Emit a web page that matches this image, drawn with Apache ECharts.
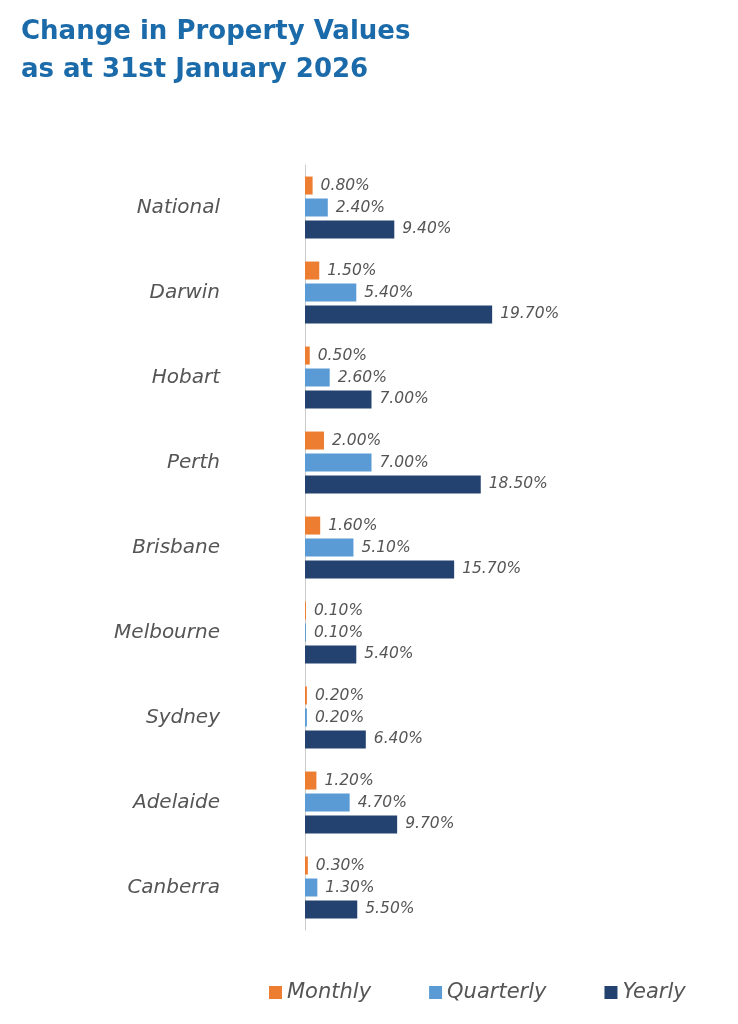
<!DOCTYPE html>
<html><head><meta charset="utf-8">
<script src="https://cdn.jsdelivr.net/npm/echarts@6/dist/echarts.min.js"></script>
<style>html,body{margin:0;padding:0;background:#fff}#c{width:738px;height:1024px}</style>
</head><body><div id="c"></div>
<script>
const categories = ["National","Darwin","Hobart","Perth","Brisbane","Melbourne","Sydney","Adelaide","Canberra"];
const monthly = [0.8,1.5,0.5,2.0,1.6,0.1,0.2,1.2,0.3];
const quarterly = [2.4,5.4,2.6,7.0,5.1,0.1,0.2,4.7,1.3];
const yearly = [9.4,19.7,7.0,18.5,15.7,5.4,6.4,9.7,5.5];
const seriesNames = ["Monthly","Quarterly","Yearly"];
const colors = ["#ED7D31","#5B9BD5","#24426F"];
const F = 'DejaVu Sans';
const lbl = {show:true,position:'right',distance:8,fontStyle:'italic',fontSize:15.5,color:'#555',fontFamily:F,formatter:p=>p.value.toFixed(2)+'%'};
const chart = echarts.init(document.getElementById('c'));
chart.setOption({
  animation:false,
  title:{text:'Change in Property Values\nas at 31st January 2026',left:16,top:8,textStyle:{color:'#1B6BAA',fontSize:26,fontWeight:'bold',fontFamily:F,lineHeight:38}},
  grid:{left:305,width:285,top:165,height:765},
  xAxis:{type:'value',min:0,max:30,show:false},
  yAxis:{type:'category',data:categories,inverse:true,axisLine:{show:true,lineStyle:{color:'#ccc'}},axisTick:{show:false},axisLabel:{margin:85,fontSize:20,fontStyle:'italic',color:'#555',fontFamily:F}},
  legend:{bottom:16,left:264,itemGap:58,itemWidth:13,itemHeight:13,icon:'rect',textStyle:{fontSize:21,fontStyle:'italic',color:'#555',fontFamily:F},data:seriesNames},
  series:[monthly,quarterly,yearly].map((d,i)=>({name:seriesNames[i],type:'bar',data:d,barWidth:18,barGap:'22%',itemStyle:{color:colors[i]},label:lbl}))
});
</script></body></html>
